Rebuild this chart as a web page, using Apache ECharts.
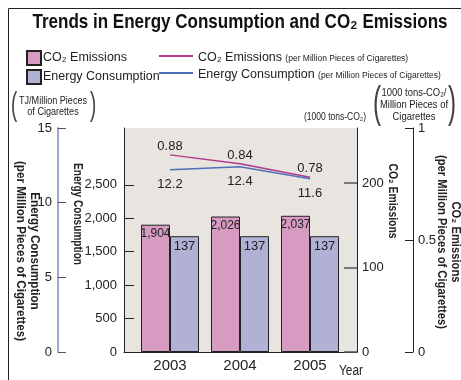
<!DOCTYPE html>
<html>
<head>
<meta charset="utf-8">
<script src="https://cdn.jsdelivr.net/npm/echarts@6/dist/echarts.min.js"></script>
<style>
  html, body { margin: 0; padding: 0; background: #fff; }
  #chart { width: 461px; height: 380px; }
</style>
</head>
<body>
<div id="chart"></div>
<script>
// Fiscal years on the category axis
const years = ['2003', '2004', '2005'];
// Bar totals
const energyTotal = [1904, 2026, 2037];   // TJ
const co2Total = [137, 137, 137];         // 1000 tons-CO2
// Intensity per million pieces of cigarettes
const energyPerMillion = [12.2, 12.4, 11.6]; // TJ / million pieces
const co2PerMillion = [0.88, 0.84, 0.78];    // 1000 tons-CO2 / million pieces
// Tick labels shown on each vertical axis
const energyTicks = [0, 500, 1000, 1500, 2000, 2500];
const co2Ticks = [0, 100, 200];
const energyRateTicks = [0, 5, 10, 15];
const co2RateTicks = [0, 0.5, 1];

const FONT = '"Liberation Sans", Arial, sans-serif';
const INK = '#222';
const PINK = '#d79ac0';
const LAVENDER = '#b1b1d6';
const MAGENTA = '#b2398f';
const BLUE = '#4d70b8';

const chart = echarts.init(document.getElementById('chart'), null, { renderer: 'canvas' });

const fmt = v => v.toLocaleString('en-US');

// Narrow-typeface look: squeeze a text block horizontally so its longest line spans `width` px
const measureCtx = document.createElement('canvas').getContext('2d');
function squeeze(text, font, width) {
  measureCtx.font = font;
  const w = Math.max.apply(null, text.split('\n').map(s => measureCtx.measureText(s).width));
  return width / w;
}

function vtext(x, y, text, size, width) {
  const font = 'bold ' + size + 'px ' + FONT;
  return {
    type: 'text', x: x, y: y, rotation: -Math.PI / 2, scaleX: squeeze(text, font, width),
    style: { text: text, font: font, fill: INK,
             align: 'center', verticalAlign: 'middle', lineHeight: size + 2 }
  };
}
function txt(x, y, text, size, width, opts) {
  opts = opts || {};
  const font = (opts.bold ? 'bold ' : '') + size + 'px ' + FONT;
  return {
    type: 'text', x: x, y: y, scaleX: width ? squeeze(text, font, width) : 1,
    style: { text: text, font: font, fill: opts.fill || INK,
             align: 'center', verticalAlign: 'middle', lineHeight: opts.lineHeight || size + 1 }
  };
}
function paren(x, y, ch, size) {
  return {
    type: 'text', x: x, y: y, scaleX: 0.55,
    style: { text: ch, font: size + 'px ' + FONT, fill: '#444',
             align: 'center', verticalAlign: 'middle' }
  };
}

const option = {
  animation: false,
  textStyle: { fontFamily: FONT },
  grid: [
    { left: 135, right: 116, top: 128, bottom: 28, show: false },
    { left: 124, right: 104, top: 128, bottom: 28, show: true,
      backgroundColor: '#e8e4df', borderWidth: 0, z: -1 }
  ],
  legend: [
    {
      left: 26, top: 50, padding: 0, orient: 'vertical', icon: 'rect',
      itemWidth: 14, itemHeight: 14, itemGap: 3,
      data: ['CO₂ Emissions', 'Energy Consumption'],
      textStyle: { fontSize: 12.5, color: INK, fontFamily: FONT, padding: [0, 0, 0, -3] }
    },
    {
      left: 159, top: 51, padding: 0, orient: 'vertical', icon: 'rect',
      itemWidth: 34, itemHeight: 2, itemGap: 4,
      data: ['CO₂ Emissions (per Million Pieces of Cigarettes)',
             'Energy Consumption (per Million Pieces of Cigarettes)'],
      formatter: name => {
        const i = name.indexOf(' (');
        return '{a|' + name.slice(0, i) + '} {b|' + name.slice(i + 1) + '}';
      },
      textStyle: {
        color: INK, fontFamily: FONT, height: 14,
        rich: {
          a: { fontSize: 12.5, fontFamily: FONT, color: INK, height: 14 },
          b: { fontSize: 8.5, fontFamily: FONT, color: INK, height: 14, padding: [3, 0, 0, 0] }
        }
      }
    }
  ],
  xAxis: [
    {
      type: 'category', gridIndex: 0, data: years,
      axisLine: { show: false }, axisTick: { show: false },
      axisLabel: { fontSize: 15, color: INK, margin: 6, fontFamily: FONT }
    },
    {
      type: 'category', gridIndex: 1, data: [''],
      axisLine: { show: true, lineStyle: { color: INK, width: 1 } },
      axisTick: { show: false }, axisLabel: { show: false }
    }
  ],
  yAxis: [
    { // energy totals
      type: 'value', gridIndex: 0, position: 'left', offset: 11,
      min: 0, max: 3350, interval: 500,
      axisLine: { show: true, lineStyle: { color: INK, width: 1 } },
      axisTick: { show: true, inside: true, length: 10, customValues: energyTicks,
                  lineStyle: { color: INK } },
      axisLabel: { customValues: energyTicks, formatter: v => fmt(v), fontSize: 13,
                   color: INK, margin: 7, fontFamily: FONT },
      splitLine: { show: false }
    },
    { // CO2 totals
      type: 'value', gridIndex: 0, position: 'right', offset: 12,
      min: 0, max: 265, interval: 100,
      axisLine: { show: true, lineStyle: { color: INK, width: 1 } },
      axisTick: { show: true, inside: true, length: 13, customValues: co2Ticks,
                  lineStyle: { color: '#555', width: 1.5 } },
      axisLabel: { customValues: co2Ticks, fontSize: 13, color: INK, margin: 5, fontFamily: FONT },
      splitLine: { show: false }
    },
    { // energy per million pieces
      type: 'value', gridIndex: 0, position: 'left', offset: 77,
      min: 0, max: 15, interval: 5,
      axisLine: { show: true, lineStyle: { color: '#9aa8d6', width: 2 } },
      axisTick: { show: true, inside: true, length: 8, customValues: energyRateTicks,
                  lineStyle: { color: '#555' } },
      axisLabel: { customValues: energyRateTicks, fontSize: 13, color: INK, margin: 6, fontFamily: FONT },
      splitLine: { show: false }
    },
    { // CO2 per million pieces
      type: 'value', gridIndex: 0, position: 'right', offset: 68,
      min: 0, max: 1, interval: 0.5,
      axisLine: { show: true, lineStyle: { color: INK, width: 1 } },
      axisTick: { show: true, inside: true, length: 8, customValues: co2RateTicks,
                  lineStyle: { color: INK } },
      axisLabel: { customValues: co2RateTicks, fontSize: 13, color: INK, margin: 5, fontFamily: FONT },
      splitLine: { show: false }
    },
    { type: 'value', gridIndex: 1, show: false }
  ],
  series: [
    {
      name: 'CO₂ Emissions', type: 'bar', xAxisIndex: 0, yAxisIndex: 0,
      data: energyTotal, barWidth: 29, barGap: '0%',
      itemStyle: { color: PINK, borderColor: INK, borderWidth: 1 },
      label: { show: true, position: 'insideTop', distance: 3, formatter: p => fmt(p.value),
               fontSize: 12, color: INK, fontFamily: FONT }
    },
    {
      name: 'Energy Consumption', type: 'bar', xAxisIndex: 0, yAxisIndex: 1,
      data: co2Total, barWidth: 29,
      itemStyle: { color: LAVENDER, borderColor: INK, borderWidth: 1 },
      label: { show: true, position: 'insideTop', distance: 4,
               fontSize: 13, color: INK, fontFamily: FONT }
    },
    {
      name: 'CO₂ Emissions (per Million Pieces of Cigarettes)', type: 'line',
      xAxisIndex: 0, yAxisIndex: 3, data: co2PerMillion,
      symbol: 'circle', symbolSize: 0, showSymbol: true,
      lineStyle: { color: MAGENTA, width: 1.5 }, itemStyle: { color: MAGENTA },
      label: { show: true, position: 'top', distance: 2, formatter: p => p.value.toFixed(2),
               fontSize: 13, color: INK, fontFamily: FONT }
    },
    {
      name: 'Energy Consumption (per Million Pieces of Cigarettes)', type: 'line',
      xAxisIndex: 0, yAxisIndex: 2, data: energyPerMillion,
      symbol: 'circle', symbolSize: 0, showSymbol: true,
      lineStyle: { color: BLUE, width: 1.5 }, itemStyle: { color: BLUE },
      label: { show: true, position: 'bottom', distance: 8, formatter: p => p.value.toFixed(1),
               fontSize: 13, color: INK, fontFamily: FONT }
    }
  ],
  graphic: [
    { type: 'rect', shape: { x: 8.5, y: 8.5, width: 470, height: 400 },
      style: { fill: null, stroke: INK, lineWidth: 1 }, silent: true },
    txt(240, 22, 'Trends in Energy Consumption and CO₂ Emissions', 21, 415, { bold: true, fill: '#111' }),
    // unit captions
    txt(53, 106, 'TJ/Million Pieces\nof Cigarettes', 11, 68, { lineHeight: 11 }),
    paren(14, 106, '(', 34), paren(93, 106, ')', 34),
    txt(335, 117, '(1000 tons-CO₂)', 10, 62),
    txt(414, 105, '1000 tons-CO₂/\nMillion Pieces of\nCigarettes', 11, 68, { lineHeight: 12 }),
    paren(377, 105, '(', 44), paren(452, 105, ')', 44),
    // axis titles
    vtext(27, 251, 'Energy Consumption\n(per Million Pieces of Cigarettes)', 12, 180),
    vtext(77, 214, 'Energy Consumption', 12, 102),
    vtext(392, 201, 'CO₂ Emissions', 12, 75),
    vtext(448, 242, 'CO₂ Emissions\n(per Million Pieces of Cigarettes)', 12, 174),
    txt(351, 371, 'Year', 14, 24)
  ]
};

chart.setOption(option);
</script>
</body>
</html>
